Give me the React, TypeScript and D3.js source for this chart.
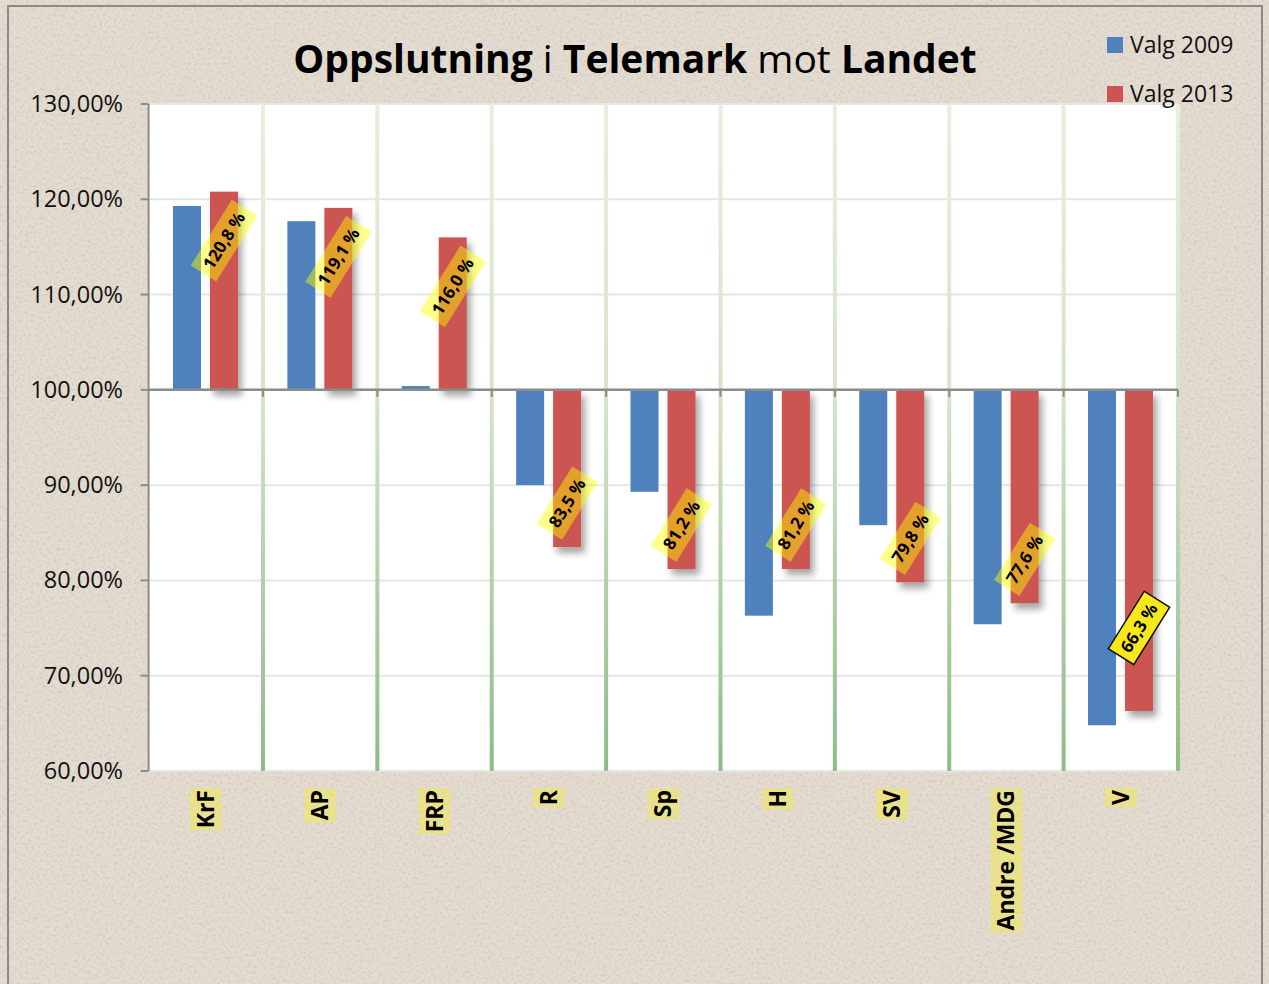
import React from "react";
import * as d3 from "d3";

// Oppslutning i Telemark mot landet (landet = 100 %)
const categories = ["KrF", "AP", "FRP", "R", "Sp", "H", "SV", "Andre /MDG", "V"];
const valg2009 = [119.3, 117.7, 100.4, 90.0, 89.3, 76.3, 85.8, 75.4, 64.8];
const valg2013 = [120.8, 119.1, 116.0, 83.5, 81.2, 81.2, 79.8, 77.6, 66.3];
const seriesNames = ["Valg 2009", "Valg 2013"];
const yTicks = [60, 70, 80, 90, 100, 110, 120, 130];
const baseline = 100;

const W = 1269;
const H = 984;
const plot = { left: 148.6, right: 1178, top: 104, bottom: 771 };
const blue = "#4f81bd";
const red = "#cc5451";
const font = "'Open Sans', 'DejaVu Sans', sans-serif";

let ctx: CanvasRenderingContext2D | null = null;
const measure = (text: string, f: string) => {
  if (!ctx) ctx = document.createElement("canvas").getContext("2d");
  if (!ctx) return text.length * 9;
  ctx.font = f;
  return ctx.measureText(text).width;
};

const fmtTick = (v: number) => v.toFixed(2).replace(".", ",") + "%";
const fmtLabel = (v: number) => v.toFixed(1).replace(".", ",") + " %";

export default function App() {
  const x0 = d3.scaleBand<string>().domain(categories).range([plot.left, plot.right]);
  const x1 = d3
    .scaleBand<string>()
    .domain(seriesNames)
    .range([24.4, 89.4])
    .paddingInner(0.2432);
  const y = d3.scaleLinear().domain([60, 130]).range([plot.bottom, plot.top]);
  const y0 = y(baseline);

  const bar = (v: number) => ({ y: Math.min(y(v), y0), h: Math.abs(y(v) - y0) });

  const labelFont = `bold 17px 'Open Sans'`;
  const catFont = `bold 23px 'Open Sans'`;

  return (
    <svg
      width={W}
      height={H}
      style={{ position: "absolute", left: 0, top: 0, display: "block" }}
      fontFamily={font}
    >
      <defs>
        <filter id="noise" x="0" y="0" width="100%" height="100%">
          <feTurbulence type="fractalNoise" baseFrequency="0.35" numOctaves="2" seed="7" />
          <feColorMatrix
            type="matrix"
            values="0 0 0 0 0.42  0 0 0 0 0.38  0 0 0 0 0.33  -2.4 0 0 0 1.3"
          />
        </filter>
        <filter id="shadow" x="-30%" y="-10%" width="180%" height="130%">
          <feDropShadow dx="4" dy="6" stdDeviation="3.5" floodColor="#000" floodOpacity="0.35" />
        </filter>
        <linearGradient id="vgrid" gradientUnits="userSpaceOnUse" x1="0" y1={plot.top} x2="0" y2={plot.bottom}>
          <stop offset="0" stopColor="#e7efde" />
          <stop offset="0.45" stopColor="#d5e3c8" />
          <stop offset="1" stopColor="#8dbb89" />
        </linearGradient>
      </defs>

      {/* background */}
      <rect x={0} y={0} width={W} height={H} fill="#e4dcd0" />
      <rect x={0} y={0} width={W} height={H} filter="url(#noise)" opacity={0.35} />
      <rect x={8} y={6} width={1254} height={H + 10} fill="none" stroke="#8a8a8a" strokeWidth={2} />

      {/* title */}
      <text x={635} y={73} textAnchor="middle" fontSize={39} fill="#000">
        <tspan fontWeight="bold">Oppslutning</tspan>
        <tspan> i </tspan>
        <tspan fontWeight="bold">Telemark</tspan>
        <tspan> mot </tspan>
        <tspan fontWeight="bold">Landet</tspan>
      </text>

      {/* plot area */}
      <rect
        x={plot.left}
        y={plot.top}
        width={plot.right - plot.left}
        height={plot.bottom - plot.top}
        fill="#fff"
      />
      {yTicks.map((t) => (
        <line
          key={t}
          x1={plot.left}
          x2={plot.right}
          y1={y(t)}
          y2={y(t)}
          stroke="#e6e6e6"
          strokeWidth={2}
        />
      ))}
      {categories.map((c) => (
        <line
          key={c}
          x1={(x0(c) as number) + x0.bandwidth()}
          x2={(x0(c) as number) + x0.bandwidth()}
          y1={plot.top}
          y2={plot.bottom}
          stroke="url(#vgrid)"
          strokeWidth={4}
        />
      ))}

      {/* bars */}
      {categories.map((c, i) => {
        const b = bar(valg2009[i]);
        return (
          <rect
            key={c}
            x={(x0(c) as number) + (x1(seriesNames[0]) as number)}
            y={b.y}
            width={x1.bandwidth()}
            height={b.h}
            fill={blue}
          />
        );
      })}
      <g filter="url(#shadow)">
        {categories.map((c, i) => {
          const b = bar(valg2013[i]);
          return (
            <rect
              key={c}
              x={(x0(c) as number) + (x1(seriesNames[1]) as number)}
              y={b.y}
              width={x1.bandwidth()}
              height={b.h}
              fill={red}
            />
          );
        })}
      </g>

      {/* axes */}
      <line x1={plot.left} x2={plot.left} y1={plot.top} y2={plot.bottom} stroke="#8c8c8c" strokeWidth={2} />
      {yTicks.map((t) => (
        <g key={t}>
          <line x1={plot.left - 8} x2={plot.left} y1={y(t)} y2={y(t)} stroke="#8c8c8c" strokeWidth={2} />
          <text x={123} y={y(t) + 8} textAnchor="end" fontSize={23.5} fill="#111">
            {fmtTick(t)}
          </text>
        </g>
      ))}
      <line x1={plot.left} x2={plot.right} y1={y0} y2={y0} stroke="#8c8c8c" strokeWidth={2.5} />
      {categories.map((c) => (
        <line
          key={c}
          x1={(x0(c) as number) + x0.bandwidth()}
          x2={(x0(c) as number) + x0.bandwidth()}
          y1={y0}
          y2={y0 + 7}
          stroke="#8c8c8c"
          strokeWidth={2}
        />
      ))}

      {/* category labels */}
      {categories.map((c) => {
        const cx = (x0(c) as number) + x0.bandwidth() / 2;
        const len = measure(c, catFont);
        return (
          <g key={c} transform={`translate(${cx},790) rotate(-90)`}>
            <rect x={-len - 2} y={-16} width={len + 4} height={32} fill="rgba(240,230,100,0.6)" />
            <text x={0} y={8} textAnchor="end" fontSize={23} fontWeight="bold" fill="#000">
              {c}
            </text>
          </g>
        );
      })}

      {/* data labels for 2013 */}
      {categories.map((c, i) => {
        const v = valg2013[i];
        const cx = (x0(c) as number) + (x1(seriesNames[1]) as number) + x1.bandwidth() / 2;
        const special = c === "V";
        const inset = special ? 83 : v >= baseline ? 49 : 44;
        const cy = v >= baseline ? y(v) + inset : y(v) - inset;
        const txt = fmtLabel(v);
        const w = measure(txt, labelFont) + 14;
        return (
          <g key={c} transform={`translate(${cx},${cy}) rotate(-58)`}>
            <rect
              x={-w / 2}
              y={-15}
              width={w}
              height={30}
              fill={special ? "#f7e81c" : "rgba(255,255,0,0.45)"}
              stroke={special ? "#111" : "none"}
              strokeWidth={1.5}
            />
            <text x={0} y={6} textAnchor="middle" fontSize={17} fontWeight="bold" fill="#000">
              {txt}
            </text>
          </g>
        );
      })}

      {/* legend */}
      {seriesNames.map((s, i) => (
        <g key={s} transform={`translate(1107,${37 + i * 49})`}>
          <rect x={0} y={0} width={16} height={16} fill={i === 0 ? blue : red} />
          <text x={23} y={16} fontSize={23} fill="#111">
            {s}
          </text>
        </g>
      ))}
    </svg>
  );
}
